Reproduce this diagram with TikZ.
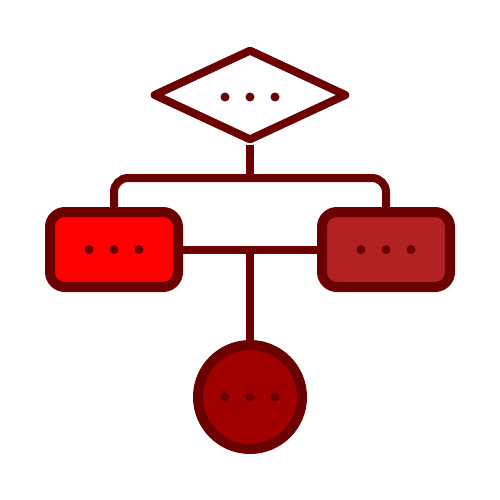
\documentclass[tikz,border=0pt]{standalone}
\usetikzlibrary{shapes.geometric,backgrounds}
\definecolor{dk}{RGB}{107,0,0}
\definecolor{redA}{RGB}{255,0,0}
\definecolor{redB}{RGB}{178,34,34}
\definecolor{redC}{RGB}{160,0,0}
\begin{document}
\begin{tikzpicture}[x=1pt,y=-1pt,
  conn/.style={draw=dk,line width=8pt},
  dia/.style={diamond,draw=dk,fill=white,line width=8pt,line join=round,inner sep=0pt,minimum width=194pt,minimum height=92pt},
  box/.style={rectangle,rounded corners=15pt,draw=dk,line width=10pt,inner sep=0pt,minimum width=128pt,minimum height=75pt},
  circ/.style={circle,draw=dk,line width=10pt,inner sep=0pt,minimum size=104pt},
  dot/.style={fill=dk}]
\useasboundingbox (0,0) rectangle (500,500);
\node[dia] (D) at (250,95) {};
\node[box,fill=redA] (L) at (114,249.5) {};
\node[box,fill=redB] (R) at (386,249.5) {};
\node[circ,fill=redC] (C) at (250,397) {};
\coordinate (J) at (250,178);
\begin{scope}[on background layer]
\draw[conn] (D.south) -- (J);
\draw[conn,rounded corners=14pt] (L.north) |- (J) -| (R.north);
\draw[conn] (L.east) -- (R.west);
\draw[conn] (C.north) -- (C.north |- L.east);
\end{scope}
\foreach \dx in {-25,0,25}{
  \fill[dot] ([xshift=\dx pt,yshift=-2pt]D.center) circle (4.5pt);
}
\foreach \n in {L,C,R}{
  \foreach \dx in {-25,0,25}{
    \fill[dot] ([xshift=\dx pt]\n.center) circle (4.5pt);
  }
}
\end{tikzpicture}
\end{document}
